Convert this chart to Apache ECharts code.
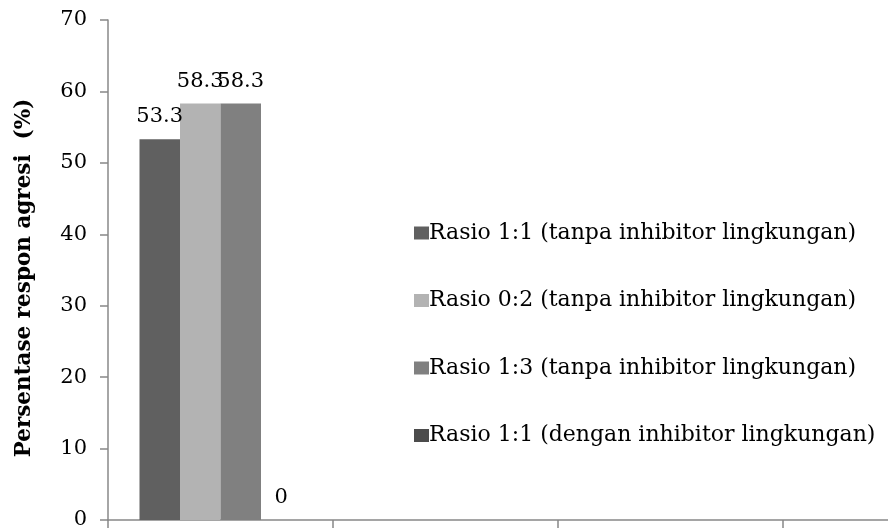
<!DOCTYPE html>
<html><head><meta charset="utf-8">
<script src="https://cdn.jsdelivr.net/npm/echarts@6/dist/echarts.min.js"></script>
<style>html,body{margin:0;padding:0;background:#fff}#c{width:888px;height:528px}</style>
</head><body><div id="c"></div>
<script>
const categories = ['', '', '', ''];
const seriesNames = [
  'Rasio 1:1 (tanpa inhibitor lingkungan)',
  'Rasio 0:2 (tanpa inhibitor lingkungan)',
  'Rasio 1:3 (tanpa inhibitor lingkungan)',
  'Rasio 1:1 (dengan inhibitor lingkungan)'
];
const s1 = [53.3, null, null, null];
const s2 = [58.3, null, null, null];
const s3 = [58.3, null, null, null];
const s4 = [0, null, null, null];
const yTicks = [0, 70, 10];
const colors = ['#606060', '#b3b3b3', '#808080', '#4c4c4c'];
const FONT = 'DejaVu Serif';
const chart = echarts.init(document.getElementById('c'));
const allData = [s1, s2, s3, s4];
chart.setOption({
  animation: false,
  textStyle: {fontFamily: FONT},
  grid: {left: 108, top: 20, height: 500, width: 900, containLabel: false, outerBoundsMode: 'none'},
  legend: {
    orient: 'vertical', left: 409, top: 216, itemWidth: 15, itemHeight: 13, itemGap: 43.5,
    icon: 'rect',
    textStyle: {fontFamily: FONT, fontSize: 22, color: '#000', lineHeight: 24, padding: [0,0,0,-5]},
    data: seriesNames
  },
  xAxis: {
    type: 'category', data: categories,
    axisLine: {lineStyle: {color: '#888', width: 1.5}},
    axisTick: {show: true, length: 8, lineStyle: {color: '#888', width: 1.5}},
    axisLabel: {show: false}
  },
  yAxis: {
    type: 'value', min: yTicks[0], max: yTicks[1], interval: yTicks[2],
    name: 'Persentase respon agresi  (%)', nameLocation: 'middle', nameGap: 73,
    nameTextStyle: {fontFamily: FONT, fontSize: 21.5, fontWeight: 'bold', color: '#000', padding: [0, 16, 0, 0]},
    axisLine: {show: true, lineStyle: {color: '#888', width: 1.5}},
    axisTick: {show: true, length: 8, lineStyle: {color: '#888', width: 1.5}},
    splitLine: {show: false},
    axisLabel: {fontFamily: FONT, fontSize: 21, color: '#000', margin: 21}
  },
  series: allData.map((d, i) => ({
    name: seriesNames[i], type: 'bar', data: d,
    barGap: '0%', barCategoryGap: '28%',
    itemStyle: {color: colors[i]},
    label: {show: true, position: 'top', distance: 12, fontFamily: FONT, fontSize: 21, color: '#000'}
  }))
});
</script></body></html>
